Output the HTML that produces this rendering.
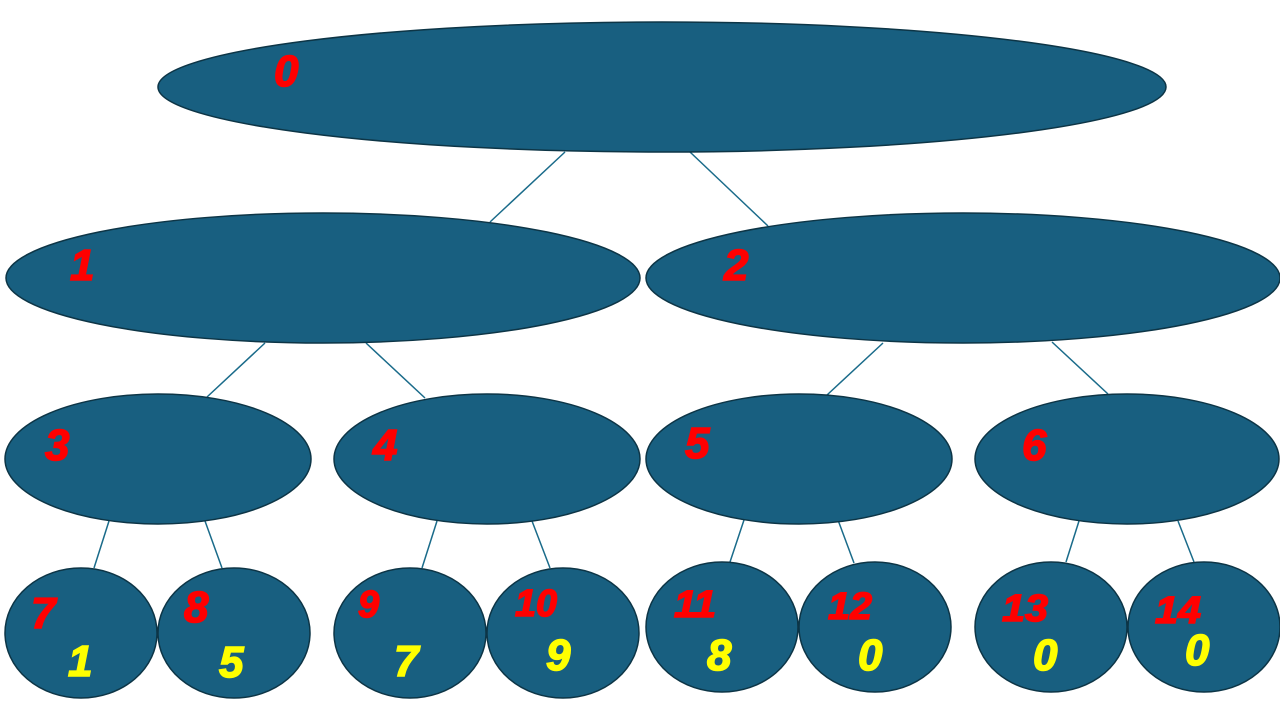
<!DOCTYPE html>
<html><head><meta charset="utf-8"><style>html,body{margin:0;padding:0;background:#fff;width:1280px;height:720px;overflow:hidden}</style></head><body>
<svg width="1280" height="720" viewBox="0 0 1280 720" xmlns="http://www.w3.org/2000/svg">
<g stroke="#1a6b8a" stroke-width="1.5">
<line x1="565" y1="152" x2="490" y2="222"/><line x1="690" y1="152" x2="768" y2="226"/>
<line x1="265" y1="343" x2="207" y2="397"/><line x1="366" y1="343" x2="425" y2="398"/>
<line x1="883" y1="343" x2="827" y2="395"/><line x1="1052" y1="342" x2="1108" y2="394"/>
<line x1="109" y1="521" x2="94" y2="568"/><line x1="205" y1="521" x2="222" y2="568"/>
<line x1="437" y1="521" x2="422" y2="568"/><line x1="532" y1="521" x2="550" y2="568"/>
<line x1="744" y1="520" x2="730" y2="562"/><line x1="838" y1="520" x2="854" y2="563"/>
<line x1="1079" y1="521" x2="1066" y2="562"/><line x1="1178" y1="521" x2="1194" y2="562"/>
</g>
<g fill="#185f80" stroke="#0d3546" stroke-width="1.5">
<ellipse cx="662" cy="87" rx="504" ry="65"/>
<ellipse cx="323" cy="278" rx="317" ry="65"/><ellipse cx="963" cy="278" rx="317" ry="65"/>
<ellipse cx="158" cy="459" rx="153" ry="65"/><ellipse cx="487" cy="459" rx="153" ry="65"/>
<ellipse cx="799" cy="459" rx="153" ry="65"/><ellipse cx="1127" cy="459" rx="152" ry="65"/>
<ellipse cx="81" cy="633" rx="76" ry="65"/><ellipse cx="234" cy="633" rx="76" ry="65"/>
<ellipse cx="410" cy="633" rx="76" ry="65"/><ellipse cx="563" cy="633" rx="76" ry="65"/>
<ellipse cx="722" cy="627" rx="76" ry="65"/><ellipse cx="875" cy="627" rx="76" ry="65"/>
<ellipse cx="1051" cy="627" rx="76" ry="65"/><ellipse cx="1204" cy="627" rx="76" ry="65"/>
</g>
<g font-family="Liberation Sans, sans-serif" font-weight="bold" font-style="italic" font-size="44" fill="#ff0000" stroke="#ff0000" stroke-width="1.5">
<text x="274" y="86">0</text>
<text x="70" y="280">1</text><text x="724" y="280">2</text>
<text x="45" y="460">3</text><text x="373" y="460">4</text><text x="685" y="458">5</text><text x="1022" y="460">6</text>
<text x="31" y="628">7</text><text x="184" y="622">8</text>
<g font-size="38"><text x="358" y="617">9</text>
<text x="515" y="616" textLength="42" lengthAdjust="spacingAndGlyphs">10</text>
<text x="674" y="617" textLength="42" lengthAdjust="spacingAndGlyphs">11</text>
<text x="828" y="619" textLength="44" lengthAdjust="spacingAndGlyphs">12</text>
<text x="1002" y="621" textLength="46" lengthAdjust="spacingAndGlyphs">13</text>
<text x="1155" y="623" textLength="46" lengthAdjust="spacingAndGlyphs">14</text></g>
</g>
<g font-family="Liberation Sans, sans-serif" font-weight="bold" font-style="italic" font-size="44" fill="#ffff00" stroke="#ffff00" stroke-width="1.5">
<text x="68" y="676">1</text><text x="219" y="677">5</text><text x="394" y="676">7</text><text x="546" y="670">9</text>
<text x="707" y="670">8</text><text x="858" y="670">0</text><text x="1033" y="670">0</text><text x="1185" y="665">0</text>
</g>
</svg>
</body></html>
